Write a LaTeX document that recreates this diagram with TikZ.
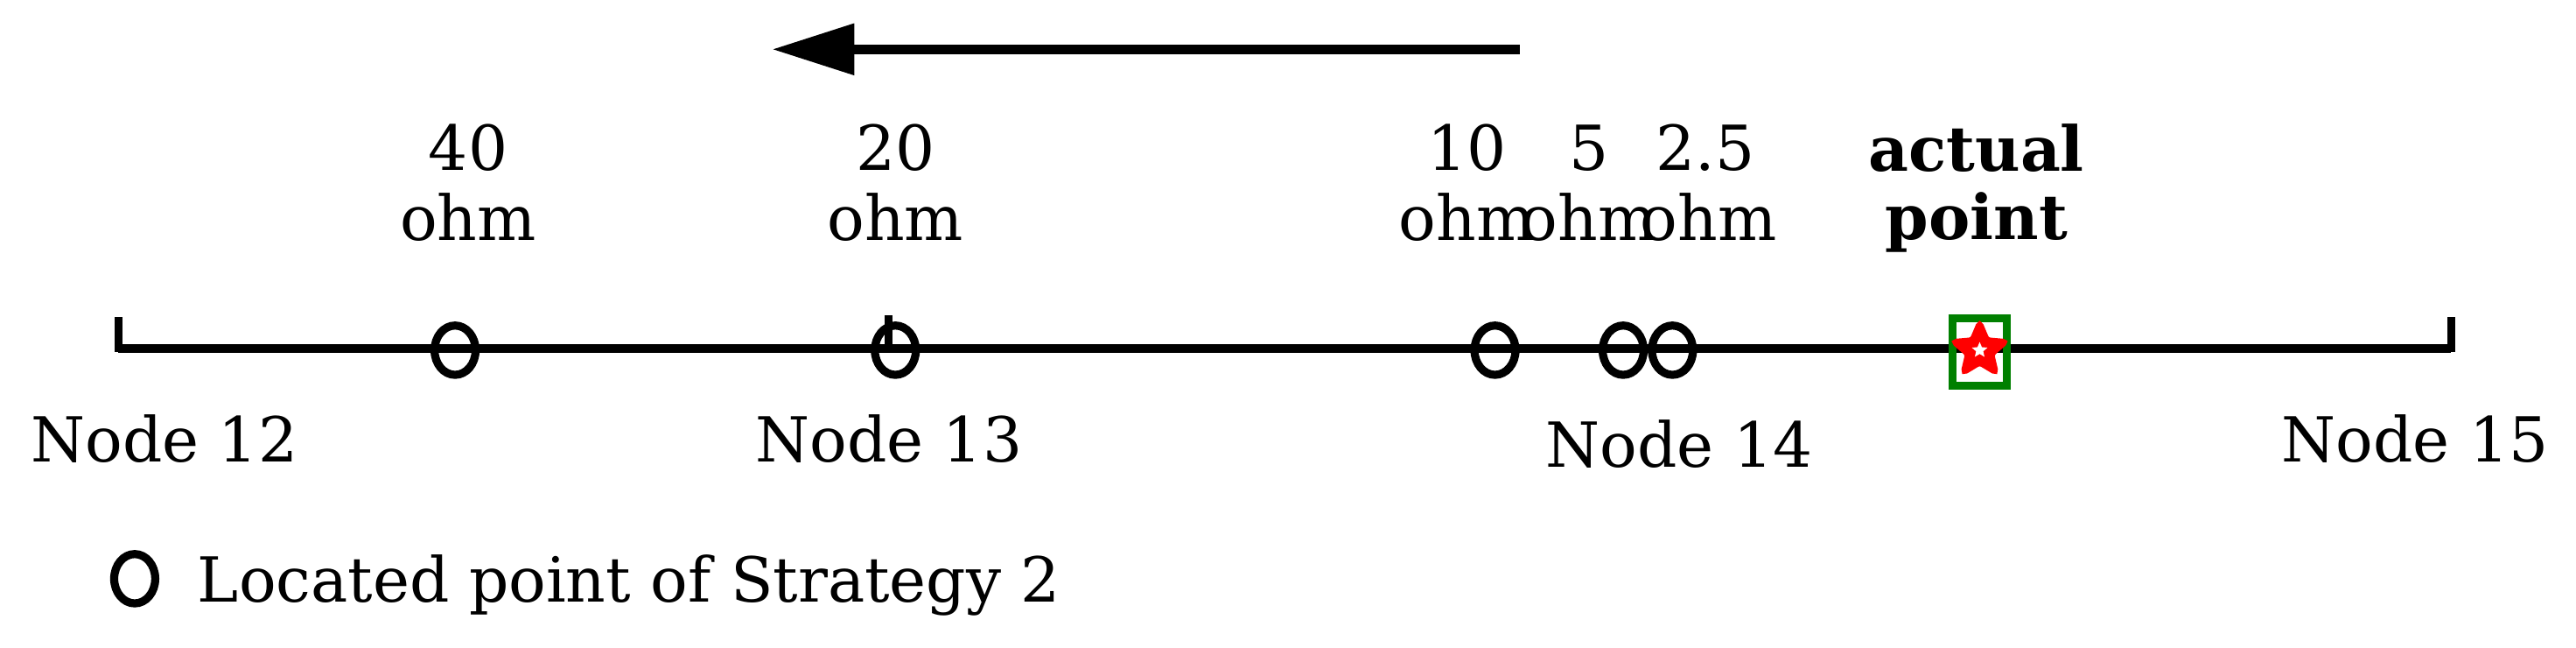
\documentclass[tikz,border=0pt]{standalone}
\usepackage{fontspec}
\setmainfont{DejaVu Serif}
\usetikzlibrary{arrows.meta,shapes.geometric}
\begin{document}
\begin{tikzpicture}[x=0.02cm,y=-0.02cm,
  lbl/.style={font=\fontsize{21.5}{26}\selectfont,inner sep=0pt},
  loc/.style={draw,line width=2.8pt,ellipse,minimum width=0.5cm,minimum height=0.6cm,inner sep=0pt},
  axis/.style={line width=2.8pt}]
\useasboundingbox (0,0) rectangle (1568,394);
% direction arrow
\coordinate (as) at (925,30); \coordinate (ae) at (470,30);
\draw[line width=3.4pt,-{Triangle[length=1.0cm,width=0.6cm]}] (as) -- (ae);
% axis
\coordinate (n12) at (72,212); \coordinate (n15) at (1492,212);
\draw[axis] (n12) -- (n15);
\draw[axis] (72,193) -- (72,214);
\draw[axis] (1492,193) -- (1492,214);
\draw[axis] (541,192) -- (541,212);
% located points
\node[loc] (p40) at (277,213) {};
\node[loc] (p20) at (545,213) {};
\node[loc] (p10) at (910,213) {};
\node[loc] (p5) at (988,213) {};
\node[loc] (p25) at (1018,213) {};
% actual point
\node[draw=green!50!black,line width=2.6pt,minimum width=0.66cm,minimum height=0.82cm,inner sep=0pt] (act) at (1205,214) {};
\node[star,star points=5,star point ratio=2.2,fill=red,draw=red,line width=2pt,rounded corners=1pt,minimum size=0.66cm,inner sep=0pt] (st) at (1205,213) {};
\node[star,star points=5,star point ratio=2.2,fill=white,minimum size=0.2cm,inner sep=0pt] (sti) at (1205,213) {};
% labels
\node[lbl] (l40a) at (285,90) {40}; \node[lbl] (l40b) at (285,132) {ohm};
\node[lbl] (l20a) at (545,90) {20}; \node[lbl] (l20b) at (545,132) {ohm};
\node[lbl] (l10a) at (893,90) {10}; \node[lbl] (l10b) at (893,132) {ohm};
\node[lbl] (l5a) at (967,90) {5}; \node[lbl] (l5b) at (967,132) {ohm};
\node[lbl] (l25a) at (1038,90) {2.5}; \node[lbl] (l25b) at (1040,132) {ohm};
\node[lbl,font=\fontsize{21.5}{26}\selectfont\bfseries] (aa) at (1203,90) {actual};
\node[lbl,font=\fontsize{21.5}{26}\selectfont\bfseries] (ab) at (1203,135) {point};
\node[lbl] (t12) at (100,267) {Node 12};
\node[lbl] (t13) at (541,267) {Node 13};
\node[lbl] (t14) at (1022,270) {Node 14};
\node[lbl] (t15) at (1470,267) {Node 15};
% legend
\node[loc] (leg) at (82,352) {};
\node[lbl,anchor=west] (legt) at (120,356) {Located point of Strategy 2};
\end{tikzpicture}
\end{document}
